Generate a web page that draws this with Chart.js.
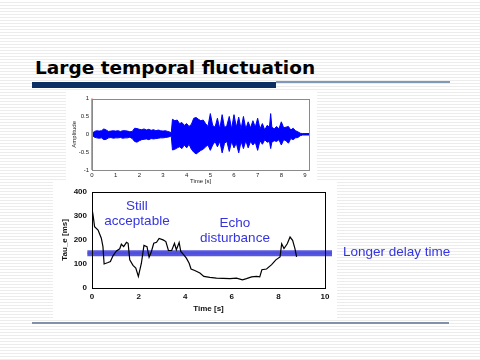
<!DOCTYPE html>
<html>
<head>
<meta charset="utf-8">
<script src="https://cdn.jsdelivr.net/npm/chart.js@4.4.1/dist/chart.umd.min.js"></script>
<style>
  html, body { margin: 0; padding: 0; }
  body {
    width: 480px; height: 360px; position: relative; overflow: hidden;
    background: repeating-linear-gradient(to bottom, #ffffff 0px, #ffffff 2px, #ececec 2px, #ececec 3px);
    font-family: "Liberation Sans", Arial, sans-serif;
  }
  .abs { position: absolute; }
  #title { left: 35px; top: 57px; font: bold 18.5px "DejaVu Sans", Verdana, sans-serif; color: #000; white-space: nowrap; }
  #barThick { left: 32px; top: 82px; width: 244px; height: 6px; background: #0b2f62; }
  #barThin { left: 276px; top: 81px; width: 174px; height: 1.5px; background: #8199b8; }
  #barBottom { left: 32px; top: 322px; width: 417px; height: 2px; background: #8391a8; }
  #waveBox { left: 66px; top: 92px; width: 251px; height: 96px; background: #fff; z-index: 2; }
  #tauBox { left: 53px; top: 182px; width: 284px; height: 138px; background: #fff; z-index: 1; }
  .note { color: #3535e0; font-size: 13.5px; text-align: center; line-height: 15px; z-index: 3; white-space: nowrap; }
</style>
</head>
<body>
<div id="title" class="abs">Large temporal fluctuation</div>
<div id="barThick" class="abs"></div>
<div id="barThin" class="abs"></div>
<div id="barBottom" class="abs"></div>
<div id="waveBox" class="abs"><canvas id="wave" width="251" height="96"></canvas></div>
<div id="tauBox" class="abs"><canvas id="tau" width="284" height="138"></canvas></div>
<div class="abs note" style="left:97px; top:198px; width:80px;">Still<br>acceptable</div>
<div class="abs note" style="left:190px; top:215px; width:90px;">Echo<br>disturbance</div>
<div class="abs note" style="left:343px; top:244px; text-align:left;">Longer delay time</div>

<script>
// upper plot: amplitude envelope of the recording
const waveTime = [0, 0.1, 0.2, 0.3, 0.4, 0.5, 0.6, 0.7, 0.8, 0.9, 1.0, 1.1, 1.2, 1.3, 1.4, 1.5, 1.6, 1.7, 1.8, 1.9,
  2.0, 2.1, 2.2, 2.3, 2.4, 2.5, 2.6, 2.7, 2.8, 2.9, 3.0, 3.1, 3.2, 3.3, 3.35, 3.4, 3.5, 3.6, 3.7, 3.8, 3.9,
  4.0, 4.1, 4.2, 4.3, 4.4, 4.5, 4.6, 4.7, 4.8, 4.9, 5.0, 5.1, 5.2, 5.3, 5.4, 5.5, 5.6, 5.7, 5.8, 5.9,
  6.0, 6.1, 6.2, 6.3, 6.4, 6.5, 6.6, 6.7, 6.8, 6.9, 7.0, 7.1, 7.2, 7.3, 7.4, 7.5, 7.55, 7.6, 7.7, 7.8, 7.9,
  8.0, 8.1, 8.2, 8.3, 8.4, 8.5, 8.6, 8.7, 8.8, 8.9, 9.0, 9.17];
const waveUpper = [0.02, 0.08, 0.1, 0.09, 0.1, 0.15, 0.12, 0.08, 0.09, 0.1, 0.09, 0.1, 0.08, 0.1, 0.1, 0.09, 0.07, 0.08, 0.17, 0.16,
  0.14, 0.13, 0.15, 0.12, 0.14, 0.11, 0.13, 0.1, 0.12, 0.1, 0.09, 0.1, 0.08, 0.06, 0.04, 0.42, 0.38, 0.4, 0.3, 0.33, 0.25,
  0.3, 0.22, 0.28, 0.45, 0.47, 0.42, 0.38, 0.4, 0.3, 0.22, 0.58, 0.25, 0.2, 0.45, 0.15, 0.55, 0.18, 0.25, 0.5, 0.15,
  0.55, 0.2, 0.48, 0.15, 0.5, 0.15, 0.35, 0.18, 0.38, 0.2, 0.45, 0.15, 0.3, 0.12, 0.25, 0.2, 0.58, 0.2, 0.15, 0.22, 0.15,
  0.35, 0.18, 0.2, 0.22, 0.12, 0.17, 0.1, 0.07, 0.03, 0.02, 0.02, 0.02];
const waveLower = [-0.02, -0.08, -0.1, -0.11, -0.1, -0.15, -0.14, -0.1, -0.09, -0.11, -0.1, -0.1, -0.09, -0.11, -0.1, -0.1, -0.08, -0.12, -0.2, -0.22,
  -0.18, -0.15, -0.14, -0.13, -0.15, -0.12, -0.13, -0.12, -0.11, -0.1, -0.1, -0.09, -0.08, -0.06, -0.05, -0.44, -0.42, -0.38, -0.35, -0.4, -0.3,
  -0.38, -0.28, -0.42, -0.5, -0.55, -0.5, -0.45, -0.42, -0.35, -0.3, -0.45, -0.3, -0.2, -0.35, -0.2, -0.52, -0.25, -0.2, -0.48, -0.2,
  -0.38, -0.25, -0.52, -0.2, -0.4, -0.18, -0.38, -0.2, -0.3, -0.22, -0.45, -0.18, -0.28, -0.15, -0.22, -0.2, -0.4, -0.22, -0.18, -0.2, -0.15,
  -0.3, -0.15, -0.18, -0.25, -0.12, -0.15, -0.1, -0.09, -0.04, -0.02, -0.02, -0.02];

// lower plot: tau_e over time
const tauTime = [0, 0.05, 0.11, 0.26, 0.4, 0.47, 0.52, 0.69, 0.79, 0.9, 1.05, 1.19, 1.26, 1.36, 1.48, 1.55, 1.62, 1.76, 1.88, 1.99,
  2.12, 2.23, 2.36, 2.45, 2.55, 2.65, 2.77, 2.88, 3.05, 3.17, 3.28, 3.42, 3.54, 3.62, 3.74, 3.81, 3.94, 4.05, 4.17, 4.25,
  4.41, 4.63, 4.8, 5.06, 5.34, 5.92, 6.2, 6.46, 6.63, 6.85, 7.06, 7.2, 7.29, 7.49, 7.71, 7.89, 8.07, 8.14, 8.24, 8.38,
  8.5, 8.61, 8.71, 8.78];
const tauValues = [330, 300, 255, 241, 207, 172, 100, 106, 110, 134, 154, 163, 182, 172, 190, 186, 117, 94, 83, 48,
  103, 177, 172, 128, 152, 186, 190, 206, 200, 193, 156, 156, 186, 159, 189, 152, 138, 124, 103, 79,
  73, 62, 48, 44, 41, 39, 41, 34, 39, 46, 48, 46, 76, 79, 97, 117, 129, 184, 164, 184,
  212, 198, 164, 129];
const delayLevel = 144;   // the "longer delay time" band
const delaySpan = [-0.2, 10.3];

const waveTicksX = [0, 1, 2, 3, 4, 5, 6, 7, 8, 9];
const waveTicksY = [-1, -0.5, 0, 0.5, 1];
const tauTicksX = [0, 2, 4, 6, 8, 10];
const tauTicksY = [0, 100, 200, 300, 400];

const pts = (xs, ys) => xs.map((x, i) => ({ x: x, y: ys[i] }));

// draws the box round the plot area
const frame = {
  id: 'frame',
  afterDatasetsDraw(chart, args, opts) {
    const a = chart.chartArea, ctx = chart.ctx;
    ctx.save();
    ctx.strokeStyle = opts.color;
    ctx.lineWidth = 1;
    ctx.strokeRect(Math.round(a.left) + 0.5, Math.round(a.top) + 0.5, Math.round(a.width), Math.round(a.height));
    ctx.restore();
  }
};

const small = { family: '"Liberation Sans", Arial, sans-serif', size: 6 };
const smallBold = { family: '"Liberation Sans", Arial, sans-serif', size: 8, weight: 'bold' };
const noGrid = { display: false, drawTicks: false, tickLength: 0 };

new Chart(document.getElementById('wave'), {
  type: 'line',
  data: {
    datasets: [{
      data: pts(waveTime, waveUpper),
      borderColor: '#0000ff', backgroundColor: '#0000ff', borderWidth: 1, pointRadius: 0, fill: false
    }, {
      data: pts(waveTime, waveLower),
      borderColor: '#0000ff', backgroundColor: '#0000ff', borderWidth: 1, pointRadius: 0, fill: '-1'
    }, {
      data: [{ x: 0, y: -1 }, { x: 0, y: 1 }],
      borderColor: '#ff5a5a', borderWidth: 1.5, pointRadius: 0, clip: false
    }]
  },
  options: {
    responsive: false, animation: false,
    layout: { padding: { top: 5, right: 8, left: 0, bottom: 3 } },
    plugins: { legend: { display: false }, tooltip: { enabled: false }, frame: { color: '#8a8a8a' } },
    scales: {
      x: {
        type: 'linear', min: 0, max: 9.17,
        afterFit: s => { s.height = 15; },
        afterBuildTicks: s => { s.ticks = waveTicksX.map(v => ({ value: v })); },
        grid: noGrid, border: { display: false },
        ticks: { font: small, color: '#222', padding: 2, maxRotation: 0 },
        title: { display: true, text: 'Time [s]', font: small, color: '#222', padding: 0 }
      },
      y: {
        min: -1, max: 1,
        afterFit: s => { s.width = 26; },
        afterBuildTicks: s => { s.ticks = waveTicksY.map(v => ({ value: v })); },
        grid: noGrid, border: { display: false },
        ticks: { font: small, color: '#222', padding: 3, callback: v => String(v) },
        title: { display: true, text: 'Amplitude', font: small, color: '#222', padding: 5 }
      }
    }
  },
  plugins: [frame]
});

new Chart(document.getElementById('tau'), {
  type: 'line',
  data: {
    datasets: [{
      data: pts(tauTime, tauValues),
      borderColor: '#000', borderWidth: 1.2, pointRadius: 0, tension: 0
    }, {
      data: delaySpan.map(x => ({ x: x, y: delayLevel })),
      borderColor: 'rgba(70,70,220,0.9)', borderWidth: 6, pointRadius: 0, clip: false
    }, {
      data: delaySpan.map(x => ({ x: x, y: delayLevel })),
      borderColor: '#9c9cf2', borderWidth: 2, pointRadius: 0, clip: false
    }]
  },
  options: {
    responsive: false, animation: false,
    layout: { padding: { top: 9, right: 12, left: 0, bottom: 6 } },
    plugins: { legend: { display: false }, tooltip: { enabled: false }, frame: { color: '#000' } },
    scales: {
      x: {
        type: 'linear', min: 0, max: 10,
        afterFit: s => { s.height = 26; },
        afterBuildTicks: s => { s.ticks = tauTicksX.map(v => ({ value: v })); },
        grid: noGrid, border: { display: false },
        ticks: { font: smallBold, color: '#111', padding: 4, maxRotation: 0 },
        title: { display: true, text: 'Time [s]', font: smallBold, color: '#111', padding: 0 }
      },
      y: {
        min: 0, max: 400,
        afterFit: s => { s.width = 39; },
        afterBuildTicks: s => { s.ticks = tauTicksY.map(v => ({ value: v })); },
        grid: noGrid, border: { display: false },
        ticks: { font: smallBold, color: '#111', padding: 5 },
        title: { display: true, text: 'Tau_e [ms]', font: smallBold, color: '#111', padding: 7 }
      }
    }
  },
  plugins: [frame]
});
</script>
</body>
</html>
